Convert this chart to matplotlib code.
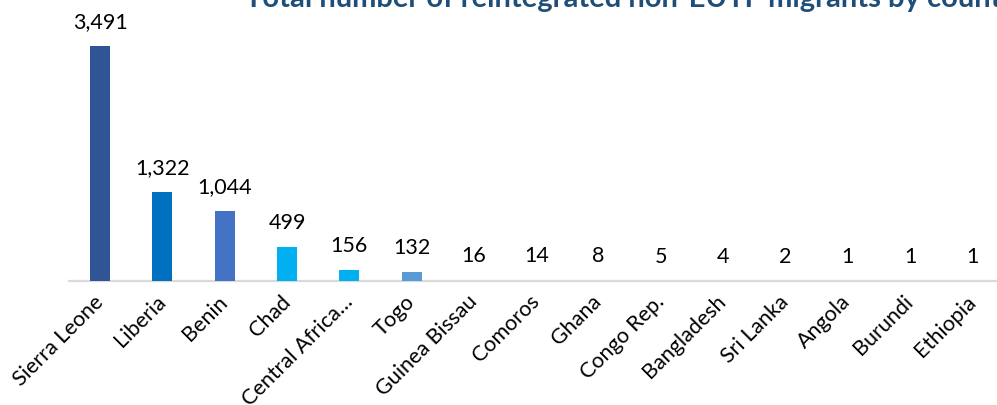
import matplotlib
matplotlib.use("Agg")
import matplotlib.pyplot as plt

countries = ["Sierra Leone", "Liberia", "Benin", "Chad", "Central Africa\u2026", "Togo",
             "Guinea Bissau", "Comoros", "Ghana", "Congo Rep.", "Bangladesh", "Sri Lanka",
             "Angola", "Burundi", "Ethiopia"]
migrants = [3491, 1322, 1044, 499, 156, 132, 16, 14, 8, 5, 4, 2, 1, 1, 1]
bar_colors = ["#2f5597", "#0070c0", "#4472c4", "#00b0f0", "#00b0f0", "#5b9bd5"] + ["#d6dce5"] * 9

title = "Total number of reintegrated non-EUTF migrants by country"

plt.rcParams["font.family"] = ["Lato", "DejaVu Sans"]

W, H = 997, 406
fig = plt.figure(figsize=(W / 100, H / 100), dpi=100)
# axes box in pixel terms: x 69..1003, y 47..282
ax = fig.add_axes([69 / W, (H - 282) / H, 934.5 / W, 235 / H])

x = range(len(countries))
ax.bar(x, migrants, width=20 / 62.3, color=bar_colors, zorder=2)
ax.set_xlim(-0.5, len(countries) - 0.5)
ax.set_ylim(0, 3491)

for xi, v in zip(x, migrants):
    ax.annotate(f"{v:,}", (xi, v), xytext=(0, 18), textcoords="offset points",
                ha="center", va="center", fontsize=15.5, color="#000000")

ax.set_yticks([])
ax.set_xticks(list(x))
ax.set_xticklabels(countries, rotation=45, ha="right", va="center",
                   rotation_mode="anchor", fontsize=15.5, color="#000000")
ax.tick_params(axis="x", length=0, pad=12)

for s in ["top", "right", "left"]:
    ax.spines[s].set_visible(False)
ax.spines["bottom"].set_color("#d9d9d9")
ax.spines["bottom"].set_linewidth(1.6)
ax.spines["bottom"].set_zorder(1)

# title is partly cut off by the top/right edge, as in the source image
fig.text(245 / W, 1 - 7 / H, title, ha="left", va="baseline",
         fontsize=21, fontweight="bold", color="#1f4e79")

fig.savefig("out.png", dpi=100)
